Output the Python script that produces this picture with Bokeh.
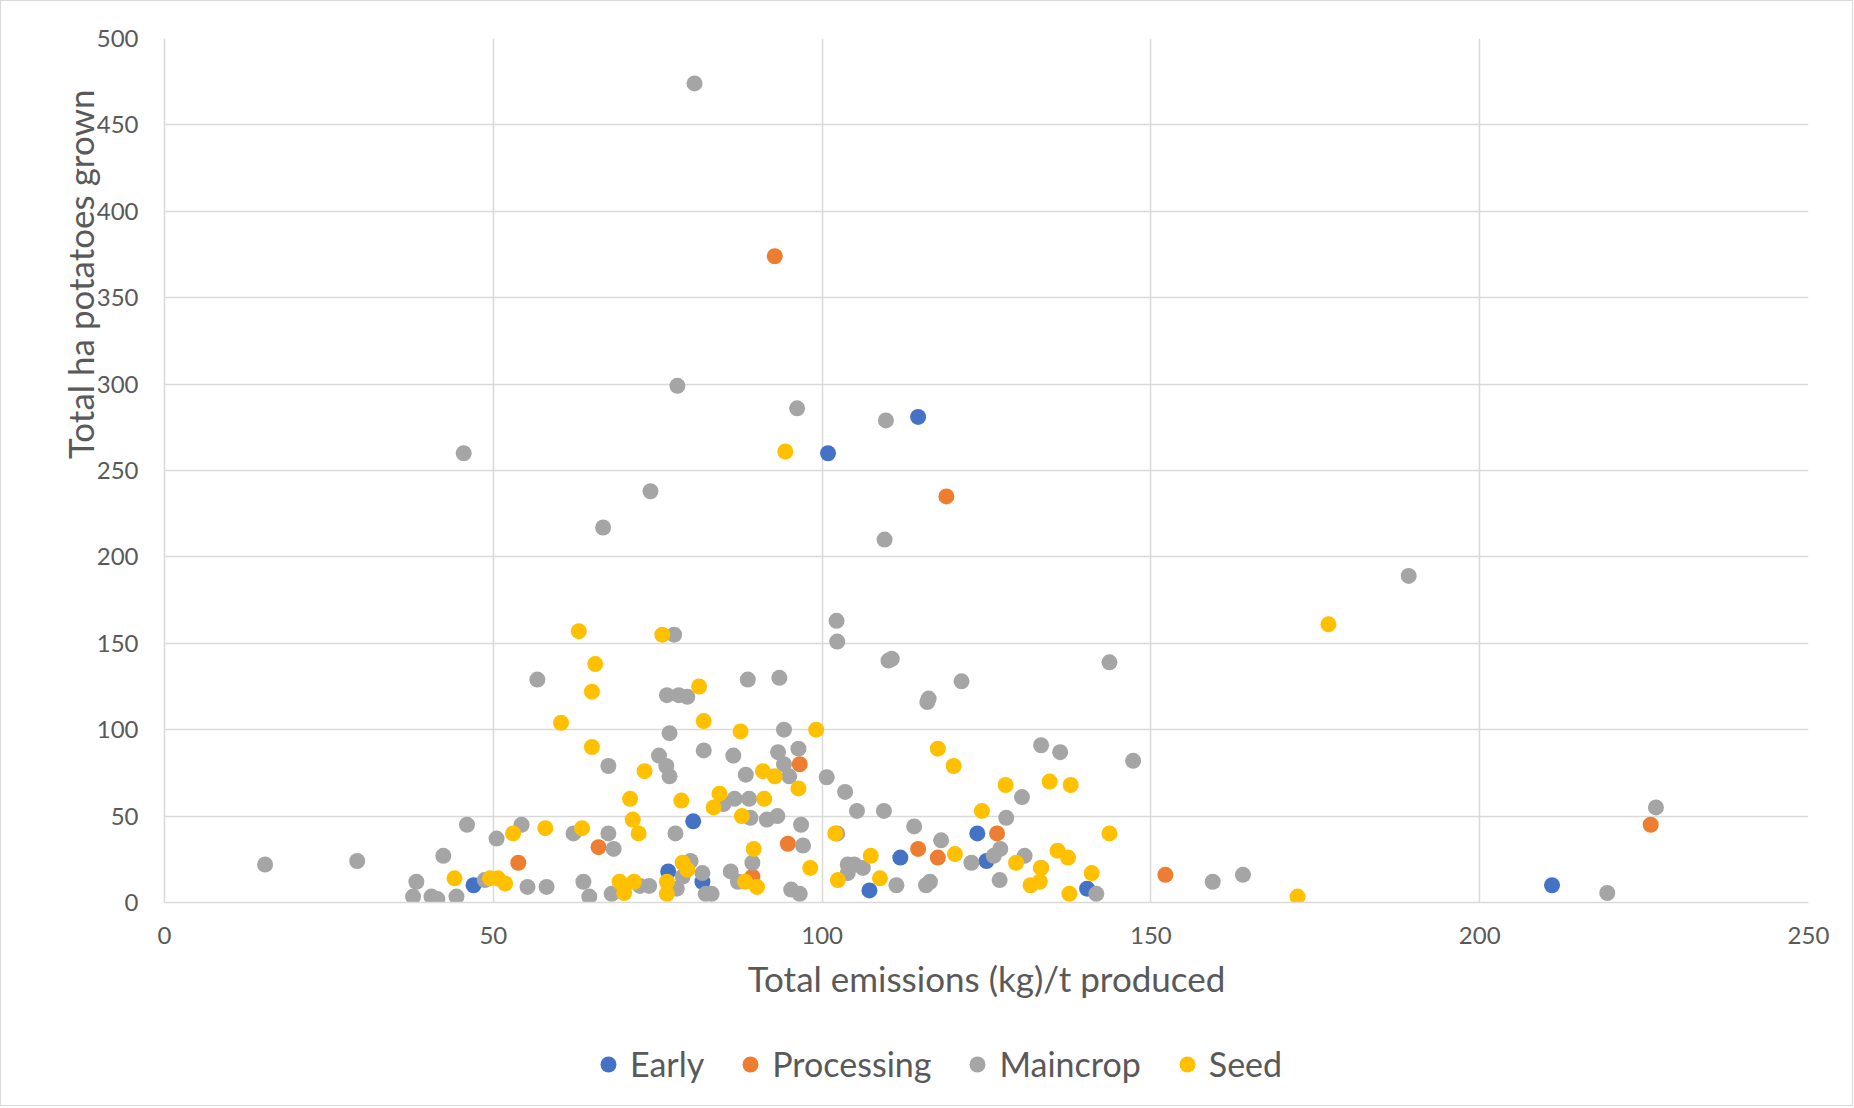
from bokeh.plotting import figure
from bokeh.layouts import column
from bokeh.models import Range1d, FixedTicker, Legend, LegendItem, Title
from bokeh.embed import file_html
from bokeh.resources import INLINE

# ---- data ----
early_x = [47, 76.6, 80.4, 81.8, 100.9, 114.6, 111.9, 107.2, 123.6, 125, 140.3, 211]
early_y = [10, 18, 47, 12, 260, 281, 26, 7, 40, 24, 8, 10]

processing_x = [92.8, 118.9, 53.8, 66, 94.8, 96.6, 89.4, 114.6, 117.6, 126.6, 152.2, 226]
processing_y = [374, 235, 23, 32, 34, 80, 15, 31, 26, 40, 16, 45]

maincrop_x = [15.3, 29.3, 42.4, 37.8, 38.3, 40.6, 41.5, 44.4, 45.5, 46, 48.7, 50.5, 54.3, 55.2,
              56.7, 58.1, 62.2, 63.7, 64.6, 66.7, 67.5, 67.5, 68.3, 68, 73.9, 72.3, 73.7, 75.2,
              76.3, 76.4, 76.8, 76.8, 77.5, 78, 78.2, 79.5, 77.7, 77.9, 78.8, 80, 80.6, 82,
              81.8, 82.3, 83.2, 85, 86.1, 86.5, 86.7, 87.2, 88.4, 88.7, 88.9, 89.1, 89.4, 91.6,
              93.2, 93.5, 93.3, 94.2, 94.2, 95, 95.3, 96.2, 96.4, 96.8, 97.1, 96.6, 100.7, 102.2,
              102.3, 102.3, 103.5, 103.9, 104.9, 103.9, 105.3, 106.2, 109.7, 109.5, 109.4, 110.1,
              110.6, 111.3, 114, 115.8, 116.4, 116, 116.2, 118.1, 121.2, 122.7, 126.1, 127, 127.1,
              128, 130.4, 130.8, 133.3, 133.3, 136.2, 141.7, 143.7, 147.3, 159.4, 164, 189.2,
              219.4, 226.8]
maincrop_y = [22, 24, 27, 3.4, 12, 3.4, 2, 3.4, 260, 45, 13, 37, 45, 9,
              129, 9, 40, 12, 3.4, 217, 79, 40, 31, 5, 238, 9.6, 9.6, 85,
              79, 120, 73, 98, 155, 299, 120, 119, 40, 8, 15, 24, 474, 88,
              17, 5, 5, 57, 18, 85, 60, 12, 74, 129, 60, 49, 23, 48,
              50, 130, 87, 100, 80, 73, 7.5, 286, 89, 45, 33, 5, 72.5, 163,
              151, 40, 64, 22, 22, 17, 53, 20, 279, 210, 53, 140,
              141, 10, 44, 10, 12, 116, 118, 36, 128, 23, 27, 13, 31,
              49, 61, 27, 91, 20, 87, 5, 139, 82, 12, 16, 189,
              5.5, 55]

seed_x = [44.1, 49.5, 50.7, 51.8, 53, 57.9, 60.3, 63, 63.5, 65, 65, 65.5, 69.2, 69.9,
          70.8, 71.2, 71.4, 72.1, 73, 75.7, 76.4, 76.4, 78.6, 78.8, 79.5, 81.3, 82, 83.5,
          84.4, 87.6, 87.8, 88.3, 89.6, 90.1, 91, 91.2, 92.8, 94.4, 96.4, 98.2, 99.1, 102,
          102.4, 107.4, 108.8, 117.6, 120, 120.2, 124.3, 127.9, 129.5, 131.7, 133.1, 133.3,
          134.6, 135.8, 137.4, 137.6, 137.8, 141, 143.7, 172.3, 177]
seed_y = [14, 14, 14, 11, 40, 43, 104, 157, 43, 122, 90, 138, 12, 5.5,
          60, 48, 12, 40, 76, 155, 12, 5, 59, 23, 19, 125, 105, 55,
          63, 99, 50, 12, 31, 9, 76, 60, 73, 261, 66, 20, 100, 40,
          13, 27, 14, 89, 79, 28, 53, 68, 23, 10, 12, 20,
          70, 30, 26, 5, 68, 17, 40, 3.4, 161]

series_names = ["Early", "Processing", "Maincrop", "Seed"]
series_colors = ["#4472C4", "#ED7D31", "#A5A5A5", "#FFC000"]

x_ticks = [0, 50, 100, 150, 200, 250]
y_ticks = [0, 50, 100, 150, 200, 250, 300, 350, 400, 450, 500]

TXT = "#595959"
GRID = "#D9D9D9"
FONT = "Lato"

p = figure(frame_width=1644, frame_height=864, output_backend="svg", toolbar_location=None,
           x_range=Range1d(0, 250), y_range=Range1d(0, 500),
           min_border_left=163, min_border_right=44, min_border_top=37, min_border_bottom=133)
p.outline_line_color = None
p.background_fill_color = "white"
p.border_fill_color = "white"

p.xaxis.ticker = FixedTicker(ticks=x_ticks)
p.yaxis.ticker = FixedTicker(ticks=y_ticks)
p.xgrid.ticker = FixedTicker(ticks=x_ticks)
p.ygrid.ticker = FixedTicker(ticks=y_ticks)
p.grid.grid_line_color = GRID
p.grid.grid_line_width = 1.5

for ax in (p.xaxis, p.yaxis):
    ax.major_tick_line_color = None
    ax.minor_tick_line_color = None
    ax.major_tick_out = 0
    ax.major_tick_in = 0
    ax.minor_tick_out = 0
    ax.major_label_text_font = FONT
    ax.major_label_text_font_size = "24px"
    ax.major_label_text_color = TXT
    ax.axis_line_color = GRID
    ax.axis_line_width = 1.5
p.xaxis.major_label_standoff = 24
p.yaxis.major_label_standoff = 26

p.xaxis.axis_label = "Total emissions (kg)/t produced"
p.xaxis.axis_label_text_font = FONT
p.xaxis.axis_label_text_font_size = "35px"
p.xaxis.axis_label_text_font_style = "normal"
p.xaxis.axis_label_text_color = TXT
p.xaxis.axis_label_standoff = 10

# y-axis title (sits high on the left, as in the reference)
ytitle = Title(text="Total ha potatoes grown", align="right", offset=51,
               text_font=FONT, text_font_size="35px", text_font_style="normal",
               text_color=TXT, standoff=-14)
p.add_layout(ytitle, "left")

S = 16
xs = [early_x, processing_x, maincrop_x, seed_x]
ys = [early_y, processing_y, maincrop_y, seed_y]
for sx, sy, c in zip(xs, ys, series_colors):
    p.scatter(sx, sy, size=S, fill_color=c, line_color=None)

# legend strip below the chart (its proxy renderers use the same data, kept
# outside this strip's visible range so only the legend shows)
lf = figure(width=1851, height=70, output_backend="svg", toolbar_location=None,
            x_axis_location=None, y_axis_location=None,
            x_range=Range1d(0, 1), y_range=Range1d(0, 1),
            min_border_left=0, min_border_right=0, min_border_top=0, min_border_bottom=10)
lf.outline_line_color = None
lf.grid.visible = False
lf.background_fill_color = "white"
lf.border_fill_color = "white"
items = []
for name, c, sx, sy in zip(series_names, series_colors, xs, ys):
    r = lf.scatter(sx, sy, size=S, fill_color=c, line_color=None)
    items.append(LegendItem(label=name, renderers=[r]))
legend = Legend(items=items, orientation="horizontal", location=(424, 11),
                label_text_font=FONT, label_text_font_size="34px", label_text_color=TXT,
                border_line_color=None, background_fill_alpha=0,
                glyph_width=40, glyph_height=40, label_standoff=2, spacing=26,
                margin=0, padding=0)
lf.add_layout(legend, "center")

layout = column(p, lf, spacing=0)
layout.styles = {"border": "1px solid #D9D9D9", "background-color": "white"}

open("out.html", "w").write(file_html(layout, INLINE))
